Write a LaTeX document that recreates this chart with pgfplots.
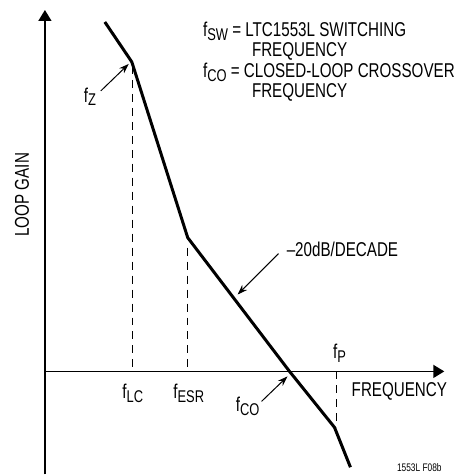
\documentclass[border=0pt]{standalone}
\usepackage{pgfplots}
\pgfplotsset{compat=1.18}
\usepackage{fontspec}
\setmainfont{Liberation Sans}[FakeStretch=0.76]
\usetikzlibrary{arrows.meta}
\newcommand\sub[1]{\raisebox{-0.35ex}{\fontsize{8.5}{8.5}\selectfont #1}}
\begin{document}
\begin{tikzpicture}
\begin{axis}[
  scale only axis, width=231.5pt, height=237.5pt,
  xmin=-45, xmax=418, ymin=-103, ymax=372,
  hide axis, clip=false,
]
\path (axis cs:-45,-103) rectangle (axis cs:418,372);
% axes
\draw[line width=0.75pt, -{Triangle[length=5.5pt,width=6.5pt]}] (axis cs:0,-103) -- (axis cs:0,362);
\draw[line width=0.75pt, -{Triangle[length=5.5pt,width=6.5pt]}] (axis cs:0,0) -- (axis cs:400,0);
% dashed guides
\addplot[black, line width=0.5pt, dash pattern=on 4pt off 3pt] coordinates {(88,306) (88,0)};
\addplot[black, line width=0.5pt, dash pattern=on 4pt off 3pt] coordinates {(143,124) (143,0)};
\addplot[black, line width=0.5pt, dash pattern=on 4pt off 3pt] coordinates {(292,0) (292,-56)};
% loop gain curve
\addplot[black, line width=1.5pt, line join=miter] coordinates {
  (60,350) (87,310) (143,134) (245,0) (290,-56) (306,-96)};
% arrows
\draw[line width=0.5pt, -{Stealth[length=5pt,width=3.5pt]}] (axis cs:56,281) -- (axis cs:84,308);
\draw[line width=0.5pt, -{Stealth[length=5pt,width=3.5pt]}] (axis cs:217,-30) -- (axis cs:243,-5);
\draw[line width=0.5pt, -{Stealth[length=5pt,width=3.5pt]}] (axis cs:234,118) -- (axis cs:193,77);
% labels
\node[inner sep=0] at (axis cs:45,275) {f\sub{Z}};
\node[inner sep=0] at (axis cs:88,-22) {f\sub{LC}};
\node[inner sep=0] at (axis cs:144,-22) {f\sub{ESR}};
\node[inner sep=0] at (axis cs:203,-35) {f\sub{CO}};
\node[inner sep=0] at (axis cs:295,18) {f\sub{P}};
\node[inner sep=0] at (axis cs:355,-20) {FREQUENCY};
\node[inner sep=0, rotate=90] at (axis cs:-23,177) {LOOP GAIN};
\node[inner sep=0] at (axis cs:298,122) {–20dB/DECADE};
\node[inner sep=0, font=\fontsize{5.5}{6}\selectfont] at (axis cs:375,-96) {1553L F08b};
\node[inner sep=0, anchor=base west] at (axis cs:158,335) {f\sub{SW} = LTC1553L SWITCHING};
\node[inner sep=0, anchor=base west] at (axis cs:207,315) {FREQUENCY};
\node[inner sep=0, anchor=base west] at (axis cs:158,294) {f\sub{CO} = CLOSED-LOOP CROSSOVER};
\node[inner sep=0, anchor=base west] at (axis cs:207,274) {FREQUENCY};
\end{axis}
\end{tikzpicture}
\end{document}
